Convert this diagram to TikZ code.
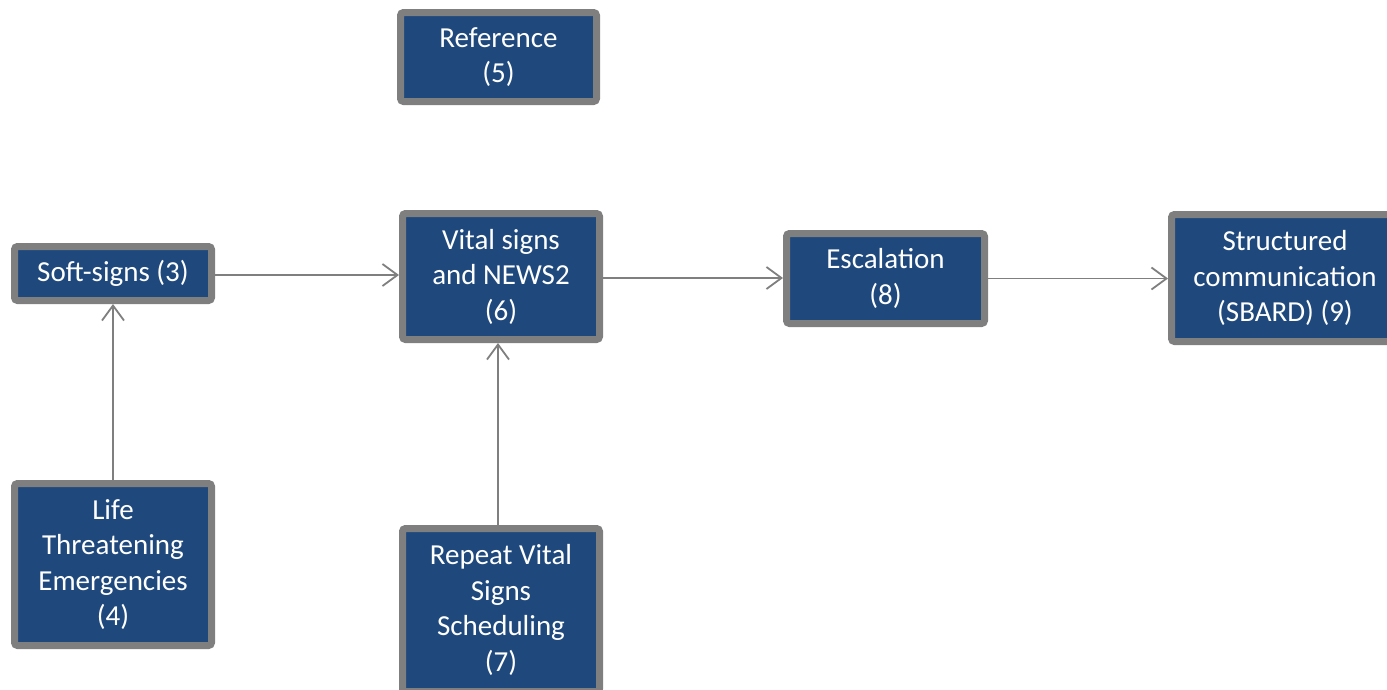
\documentclass[tikz,border=0pt]{standalone}
\usepackage{fontspec}
\setmainfont{Carlito}
\usepackage{tikz}
\usetikzlibrary{arrows.meta, positioning, calc}
\definecolor{boxfill}{RGB}{31,73,125}
\definecolor{boxedge}{RGB}{127,127,127}

\begin{document}
\begin{tikzpicture}[
    x=1pt, y=-1pt,
    stage/.style={draw=boxedge, line width=7pt, fill=boxfill, rounded corners=3pt, text=white, align=center, inner sep=0pt, font=\fontsize{29}{35.5}\selectfont},
    link/.style={draw=boxedge, line width=1.8pt, -{Straight Barb[length=15pt, width=22pt, line width=1.8pt]}}
]
    \useasboundingbox (0,0) rectangle (1387,689);
    \clip (0,0) rectangle (1387,689);

    \node[stage, minimum width=196pt, minimum height=89pt] (ref) at (498.5,57) {Reference\\(5)};
    \node[stage, minimum width=197pt, minimum height=54pt] (soft) at (113,273.5) {Soft-signs (3)};
    \node[stage, minimum width=197pt, minimum height=126pt] (vital) at (501,276.5) {Vital signs\\and NEWS2\\(6)};
    \node[stage, minimum width=198pt, minimum height=90pt] (esc) at (885.5,278.5) {Escalation\\(8)};
    \node[stage, minimum width=227pt, minimum height=127pt] (sbard) at (1285,278) {Structured\\communication\\(SBARD) (9)};
    \node[stage, minimum width=197pt, minimum height=162pt] (life) at (113,564.5) {Life\\Threatening\\Emergencies\\(4)};
    \node[stage, minimum width=197pt, minimum height=163pt] (repeat) at (501,610) {Repeat Vital\\Signs\\Scheduling\\(7)};

    % connectors
    \draw[link] ($(soft.east)+(0,1.5)$) -- ($(soft.east -| vital.west)+(0,1.5)$);
    \draw[link] ($(vital.east)+(0,1.5)$) -- ($(vital.east -| esc.west)+(0,1.5)$);
    \draw[link] (esc.east) -- (esc.east -| sbard.west);
    \draw[link] (life.north) -- (soft.south);
    \draw[link] ($(repeat.north)+(-3,0)$) -- ($(vital.south)+(-3,0)$);
\end{tikzpicture}
\end{document}
